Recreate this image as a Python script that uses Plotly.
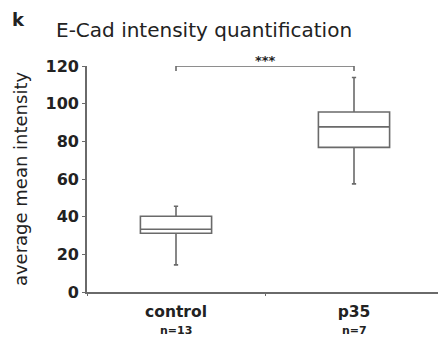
import plotly.graph_objects as go

categories = ["control", "p35"]
n_labels = ["n=13", "n=7"]
q1 = [31.2, 76.8]
median = [33.3, 87.7]
q3 = [40.2, 95.6]
lower_fence = [14.4, 57.4]
upper_fence = [45.5, 113.9]
y_ticks = [0, 20, 40, 60, 80, 100, 120]
sig_label = "***"
sig_y = 120
sig_drop = 2.7

# page body has an 8px margin; figure is sized to fit the window
W, H = 438, 331
ML, MR, MT, MB = 79, 3, 58, 47
PW, PH = W - ML - MR, H - MT - MB

LINE = "#6a6a6a"
TEXT = "#222222"
FONT = "DejaVu Sans, Liberation Sans, Arial, sans-serif"

fig = go.Figure()
fig.add_trace(go.Box(
    x=categories, q1=q1, median=median, q3=q3,
    lowerfence=lower_fence, upperfence=upper_fence,
    fillcolor="white", line=dict(color=LINE, width=1.6),
    width=0.4, whiskerwidth=0.06, boxpoints=False, showlegend=False,
    hoverinfo="skip",
))

# significance bracket
fig.add_shape(type="path", xref="x", yref="y",
              path=f"M 0 {sig_y - sig_drop} L 0 {sig_y} L 1 {sig_y} L 1 {sig_y - sig_drop}",
              line=dict(color=LINE, width=1.6))
fig.add_annotation(x=0.5, y=sig_y, xref="x", yref="y", text=f"<b>{sig_label}</b>",
                   showarrow=False, yanchor="bottom", yshift=-4,
                   font=dict(family=FONT, size=13, color=TEXT))

# panel letter
fig.add_annotation(x=(2 - ML) / PW, y=(H - MB - 12) / PH, xref="paper", yref="paper",
                   text="<b>k</b>", showarrow=False, xanchor="left", yanchor="middle",
                   font=dict(family=FONT, size=18, color=TEXT))

# sample sizes under the category labels
for c, n in zip(categories, n_labels):
    fig.add_annotation(x=c, y=0, xref="x", yref="paper", text=f"<b>{n}</b>",
                       showarrow=False, yanchor="middle", yshift=-38,
                       font=dict(family=FONT, size=11, color=TEXT))

fig.update_layout(
    width=W, height=H,
    margin=dict(l=ML, r=MR, t=MT, b=MB),
    paper_bgcolor="white", plot_bgcolor="white",
    font=dict(family=FONT, color=TEXT),
    title=dict(text="E-Cad intensity quantification", xref="container", yref="container",
               x=48 / W, xanchor="left", y=1 - 22 / H, yanchor="middle",
               font=dict(family=FONT, size=20, color=TEXT)),
    xaxis=dict(type="category", tickvals=categories,
               ticktext=[f"<b>{c}</b>" for c in categories],
               showline=True, linecolor=LINE, linewidth=1.6, showgrid=False,
               ticks="outside", tickson="boundaries", ticklen=2, tickcolor=LINE,
               ticklabelstandoff=5,
               tickfont=dict(family=FONT, size=15.5, color=TEXT),
               range=[-0.5, 1.5], zeroline=False),
    yaxis=dict(range=[0, 120], tickvals=y_ticks, showline=True, linecolor=LINE, linewidth=1.6,
               showgrid=False, zeroline=False, ticks="outside", ticklen=3, tickcolor=LINE,
               tickfont=dict(family=FONT, size=16, color=TEXT, weight="bold"),
               title=dict(text="average mean intensity", standoff=13,
                          font=dict(family=FONT, size=18, color=TEXT))),
)

fig.write_html("out.html")
